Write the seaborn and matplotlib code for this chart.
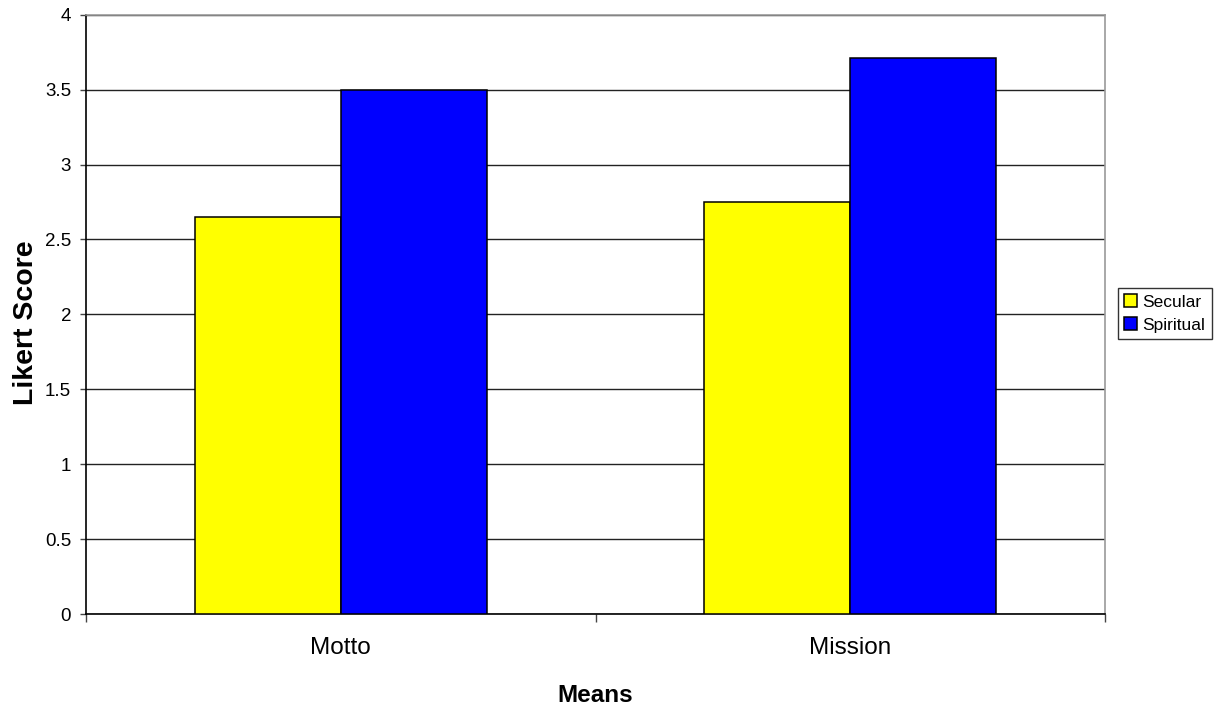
import matplotlib
matplotlib.use("Agg")
import matplotlib.pyplot as plt
import seaborn as sns
import pandas as pd

categories = ["Motto", "Mission"]
groups = ["Secular", "Spiritual"]
secular = [2.65, 2.753]
spiritual = [3.5, 3.713]
colors = {"Secular": "#FFFF00", "Spiritual": "#0000FF"}
yticks = [0, 0.5, 1, 1.5, 2, 2.5, 3, 3.5, 4]

df = pd.DataFrame({
    "Means": categories * 2,
    "Group": ["Secular"] * 2 + ["Spiritual"] * 2,
    "Score": secular + spiritual,
})

sns.set_style("white")
plt.rcParams["font.family"] = ["Liberation Sans", "DejaVu Sans"]
plt.rcParams["text.color"] = "black"
plt.rcParams["axes.labelcolor"] = "black"
plt.rcParams["xtick.color"] = "black"
plt.rcParams["ytick.color"] = "black"

fig = plt.figure(figsize=(12.16, 7.08), dpi=100)
ax = fig.add_axes([86 / 1216, 1 - 614.3 / 708, (1105 - 86) / 1216, (614.3 - 14.6) / 708])

sns.barplot(data=df, x="Means", y="Score", hue="Group", order=categories,
            hue_order=groups, palette=colors, width=0.573, gap=0,
            edgecolor="black", linewidth=1.1, saturation=1, ax=ax, zorder=3)

ax.set_xlim(-0.5, 1.5)
ax.set_ylim(0, 4)
ax.set_yticks(yticks)
ax.set_yticklabels([f"{v:g}" for v in yticks], fontsize=13.5)
ax.yaxis.grid(True, color="#222222", linewidth=1.0, zorder=0)
ax.set_axisbelow(True)

# category labels at centres, tick marks at category boundaries
ax.set_xticks([0, 1])
ax.set_xticklabels(categories, fontsize=17.5)
ax.set_xticks([-0.5, 0.5, 1.5], minor=True)
ax.tick_params(axis="x", which="major", bottom=True, length=0, pad=16)
ax.tick_params(axis="x", which="minor", bottom=True, length=6, width=1,
               color="#444444", direction="out")
ax.tick_params(axis="y", left=True, length=4.3, width=1, color="#444444",
               direction="out", pad=6.5)

for side in ["left", "bottom"]:
    ax.spines[side].set_color("black")
    ax.spines[side].set_linewidth(1.2)
for side in ["top", "right"]:
    ax.spines[side].set_color("#999999")
    ax.spines[side].set_linewidth(1.2)

ax.set_xlabel("Means", fontsize=17.5, fontweight="bold")
ax.set_ylabel("Likert Score", fontsize=20.5, fontweight="bold")
ax.xaxis.set_label_coords(0.5, -0.116)
ax.yaxis.set_label_coords(-0.046, 0.487)

handles, labels = ax.get_legend_handles_labels()
leg = ax.legend(handles, labels, loc="center left", bbox_to_anchor=(1.0128, 0.5016),
                fontsize=12.5, frameon=True, fancybox=False, edgecolor="black",
                handlelength=0.75, handleheight=0.7, handletextpad=0.3,
                borderpad=0.36, labelspacing=0.45, borderaxespad=0)
leg.get_frame().set_linewidth(1.0)

fig.savefig("out.png", dpi=100)
